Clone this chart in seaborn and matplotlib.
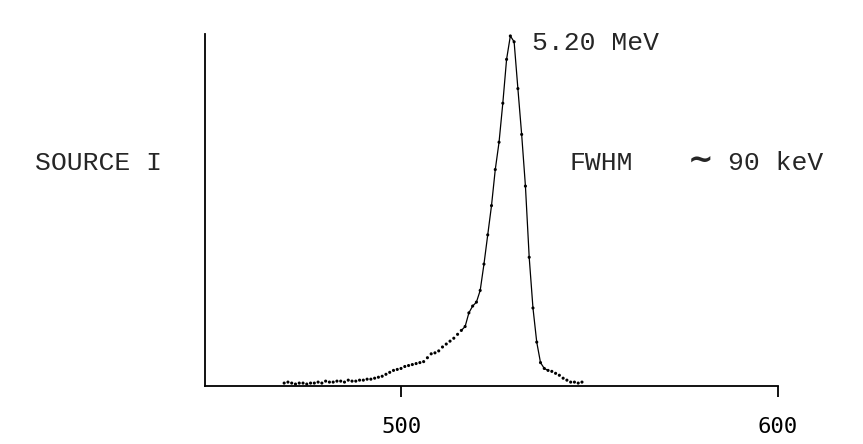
import matplotlib
matplotlib.use("Agg")
import matplotlib.pyplot as plt
import numpy as np
import pandas as pd
import seaborn as sns

# Alpha spectrum, source I (arbitrary count units), channel numbers
channel = list(range(469, 549))
counts = [3, 4, 3, 2, 3, 3, 2, 3, 3, 4,
          3, 5, 4, 4, 5, 5, 4, 6, 5, 5,
          6, 6, 7, 7, 8, 9, 10, 12, 14, 16,
          17, 18, 20, 21, 22, 23, 24, 25, 29, 33,
          34, 36, 40, 43, 46, 49, 53, 57, 61, 75,
          82, 86, 98, 125, 155, 185, 222, 250, 290, 335,
          359, 353, 305, 258, 205, 132, 80, 45, 24, 18,
          16, 15, 13, 11, 8, 6, 4, 4, 3, 4]
line_from, line_to = 516, 539   # part of the spectrum drawn with a connecting line
x_ticks = [500, 600]
x_tick_labels = ["500", "600"]
peak_label = "5.20 MeV"
source_label = "SOURCE I"
fwhm_label = "FWHM"
fwhm_value = "90 keV"

sns.set_style("ticks")
plt.rcParams['font.family'] = ['Liberation Mono', 'DejaVu Sans']

df = pd.DataFrame({"channel": channel, "counts": counts})
core = df[(df.channel >= line_from) & (df.channel <= line_to)]

fig = plt.figure(figsize=(8.63, 4.44), dpi=100)
ax = fig.add_axes([205 / 863, 1 - 386 / 444, (778 - 205) / 863, (386 - 34) / 444])

sns.lineplot(data=core, x="channel", y="counts", color="black", lw=0.9, ax=ax,
             legend=False)
sns.scatterplot(data=df, x="channel", y="counts", color="black", s=5,
                edgecolor="none", ax=ax, legend=False)

ax.set_xlim(448, 600)
ax.set_ylim(0, 361)
ax.set_xticks(x_ticks)
ax.set_xticklabels(x_tick_labels, family="DejaVu Sans Mono")
ax.set_yticks([])
ax.set_xlabel("")
ax.set_ylabel("")
sns.despine(ax=ax)
for s in ("left", "bottom"):
    ax.spines[s].set_linewidth(1.3)
    ax.spines[s].set_color("black")
ax.tick_params(axis="x", direction="out", length=8, width=1.3, labelsize=16,
               pad=14, colors="black")

fig.text(532 / 863, 1 - 43 / 444, peak_label, fontsize=19, va="center", ha="left")
fig.text(35 / 863, 1 - 163 / 444, source_label, fontsize=19, va="center", ha="left")
fig.text(570 / 863, 1 - 163 / 444, fwhm_label, fontsize=19, va="center", ha="left")
fig.text(700 / 863, 1 - 161 / 444, "\u223c", fontsize=22, fontweight="bold",
         family="DejaVu Sans", va="center", ha="center")
fig.text(728 / 863, 1 - 163 / 444, fwhm_value, fontsize=19, va="center", ha="left")

fig.savefig("out.png", dpi=100, facecolor="white")
